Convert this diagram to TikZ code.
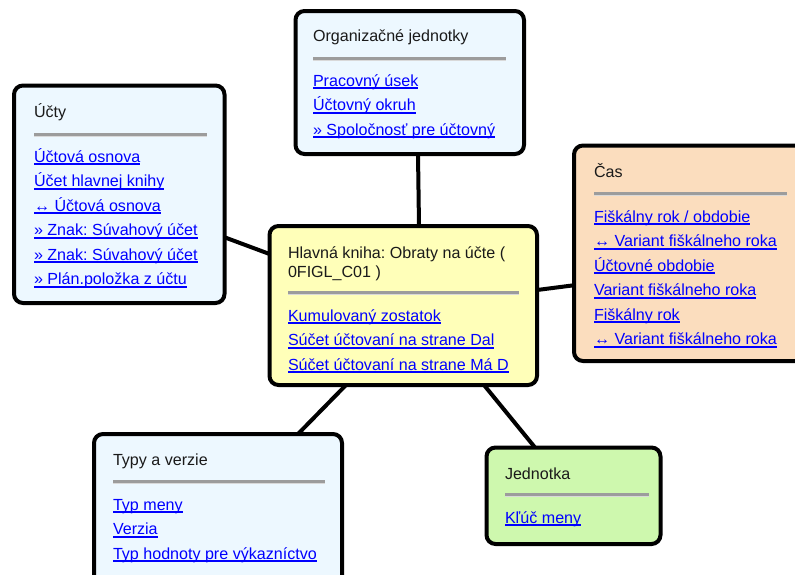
\documentclass[tikz,border=0pt]{standalone}
\usepackage{fontspec}
\setmainfont{Liberation Sans}
\usetikzlibrary{calc}
\definecolor{bluefill}{HTML}{EDF8FF}
\definecolor{yellowfill}{HTML}{FFFFB9}
\definecolor{peachfill}{HTML}{FBDDBE}
\definecolor{greenfill}{HTML}{CEF8AE}
\definecolor{linkblue}{HTML}{0000FF}
\definecolor{rulegrey}{HTML}{9C9C9C}
\definecolor{titlegrey}{HTML}{1A1A1A}
\newsavebox{\lnkbox}
\newcommand{\lnk}[1]{\sbox{\lnkbox}{#1}\rlap{\rule[-3pt]{\wd\lnkbox}{1.6pt}}\usebox{\lnkbox}}
\frenchspacing
\tikzset{
  x=1pt,y=-1pt,
  card/.style={draw=black,line width=4pt,rounded corners=9pt,inner sep=0pt,outer sep=0pt},
  title/.style={anchor=base west,inner sep=0pt,outer sep=0pt,text=titlegrey,font=\fontsize{16.08}{19}\selectfont},
  linktext/.style={anchor=base west,inner sep=0pt,outer sep=0pt,text=linkblue,font=\fontsize{16.08}{19}\selectfont},
  sep/.style={draw=rulegrey,line width=3pt},
  sepl/.style={draw=white!85!black,line width=1pt},
  conn/.style={draw=black,line width=4pt},
}
\newcommand{\cardbox}[6]{% name,fill,x1,y1,x2,y2
  \node[card,fill=#2,minimum width=#5pt-#3pt,minimum height=#6pt-#4pt,anchor=north west] (#1) at (#3,#4) {};
}
\newcommand{\seprule}[3]{% x1,x2,y
  \draw[sepl] (#1,#3+2) -- (#2,#3+2);
  \draw[sep] (#1,#3) -- (#2,#3);
}
\begin{document}
\begin{tikzpicture}
\useasboundingbox (0,0) rectangle (795,574);
\clip (0,0) rectangle (795,574);
% boxes
\cardbox{ucty}{bluefill}{14}{85.5}{224.5}{303}
\cardbox{org}{bluefill}{295.5}{11}{524}{154}
\cardbox{cas}{peachfill}{574}{145.5}{815}{361}
\cardbox{main}{yellowfill}{269.5}{226}{537}{385}
\cardbox{typy}{bluefill}{94}{434}{342}{590}
\cardbox{jedn}{greenfill}{486.5}{447.5}{660.5}{544}
% connectors
\draw[conn] ($(org.south)+(8.25,0)$) -- ($(main.north)+(15.75,0)$);
\draw[conn] ($(ucty.east)+(0,43)$) -- ($(main.west)+(0,-51.5)$);
\draw[conn] ($(cas.west)+(0,32)$) -- ($(main.east)+(0,-15.5)$);
\draw[conn] ($(typy.north)+(80,0)$) -- ($(main.south)+(-57.25,0)$);
\draw[conn] ($(jedn.north)+(-38.5,0)$) -- ($(main.south)+(80.75,0)$);
% Ucty
\node[title] (ucty0) at (34,117) {Účty};
\seprule{34}{207}{134.5}
\node[linktext] (ucty1) at (34,162) {\lnk{Účtová osnova}};
\node[linktext] (ucty2) at (34,186.5) {\lnk{Účet hlavnej knihy}};
\node[linktext] (ucty3) at (34,211) {\lnk{↔ Účtová osnova}};
\node[linktext] (ucty4) at (34,235.5) {\lnk{» Znak: Súvahový účet}};
\node[linktext] (ucty5) at (34,260) {\lnk{» Znak: Súvahový účet}};
\node[linktext] (ucty6) at (34,284.5) {\lnk{» Plán.položka z účtu}};
% Org
\node[title] (org0) at (313,41) {Organizačné jednotky};
\seprule{313}{506}{58.5}
\node[linktext] (org1) at (313,86) {\lnk{Pracovný úsek}};
\node[linktext] (org2) at (313,110.5) {\lnk{Účtovný okruh}};
\node[linktext] (org3) at (313,135) {\lnk{» Spoločnosť pre účtovný}};
% Cas
\node[title] (cas0) at (594,177) {Čas};
\seprule{594}{787}{193}
\node[linktext] (cas1) at (594,222) {\lnk{Fiškálny rok / obdobie}};
\node[linktext] (cas2) at (594,246.5) {\lnk{↔ Variant fiškálneho roka}};
\node[linktext] (cas3) at (594,271) {\lnk{Účtovné obdobie}};
\node[linktext] (cas4) at (594,295.5) {\lnk{Variant fiškálneho roka}};
\node[linktext] (cas5) at (594,320) {\lnk{Fiškálny rok}};
\node[linktext] (cas6) at (594,344.5) {\lnk{↔ Variant fiškálneho roka}};
% Main
\node[title] (main0) at (288,258) {Hlavná kniha: Obraty na účte (};
\node[title] (main00) at (288,277) {0FIGL\_C01 )};
\seprule{288}{519}{292.5}
\node[linktext] (main1) at (288,321) {\lnk{Kumulovaný zostatok}};
\node[linktext] (main2) at (288,345.5) {\lnk{Súčet účtovaní na strane Dal}};
\node[linktext] (main3) at (288,370) {\lnk{Súčet účtovaní na strane Má D}};
% Typy
\node[title] (typy0) at (113,465) {Typy a verzie};
\seprule{113}{325}{481.5}
\node[linktext] (typy1) at (113,510) {\lnk{Typ meny}};
\node[linktext] (typy2) at (113,534.5) {\lnk{Verzia}};
\node[linktext] (typy3) at (113,559) {\lnk{Typ hodnoty pre výkazníctvo}};
% Jednotka
\node[title] (jedn0) at (505,479) {Jednotka};
\seprule{505}{649}{494.5}
\node[linktext] (jedn1) at (505,523) {\lnk{Kľúč meny}};
\end{tikzpicture}
\end{document}
